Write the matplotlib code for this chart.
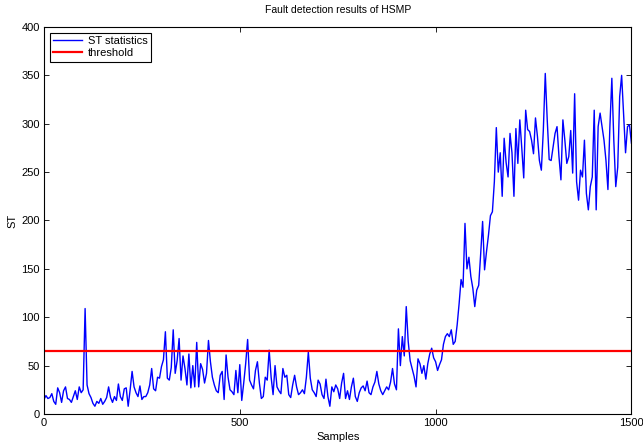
# ST statistics vs. threshold (HSMP fault detection), MATLAB-like look

import numpy as np
import matplotlib
matplotlib.use("Agg")
import matplotlib.pyplot as plt

# ST statistic, every 5 samples (0 .. 1500)
st_values = [
    15, 19, 16, 17, 21, 13, 10, 27, 22, 12,
    24, 28, 16, 15, 12, 18, 24, 15, 28, 22,
    25, 109, 30, 21, 17, 11, 8, 13, 11, 16,
    10, 13, 17, 28, 17, 12, 18, 14, 31, 18,
    14, 26, 27, 8, 25, 44, 28, 22, 18, 29,
    15, 18, 18, 22, 30, 47, 26, 24, 38, 37,
    49, 56, 85, 37, 35, 48, 87, 42, 55, 78,
    35, 60, 47, 30, 62, 27, 50, 28, 74, 28,
    52, 46, 32, 42, 76, 54, 38, 30, 24, 22,
    40, 44, 15, 61, 38, 25, 23, 20, 45, 22,
    51, 14, 32, 52, 77, 35, 30, 26, 45, 54,
    32, 16, 18, 38, 35, 66, 38, 20, 50, 28,
    24, 21, 47, 38, 40, 20, 17, 30, 40, 28,
    20, 22, 25, 21, 38, 64, 37, 25, 22, 18,
    35, 31, 20, 16, 36, 18, 8, 28, 23, 30,
    26, 16, 32, 42, 16, 24, 15, 28, 37, 18,
    13, 22, 27, 29, 24, 34, 22, 20, 28, 33,
    44, 31, 24, 20, 24, 28, 25, 33, 47, 31,
    25, 88, 50, 80, 60, 111, 75, 55, 47, 39,
    28, 57, 52, 42, 50, 36, 52, 62, 68, 58,
    54, 45, 51, 56, 72, 80, 83, 80, 87, 72,
    75, 92, 114, 139, 131, 197, 150, 162, 142, 130,
    111, 128, 133, 165, 199, 149, 168, 185, 205, 209,
    240, 296, 250, 270, 225, 285, 260, 245, 290, 270,
    225, 295, 259, 304, 275, 244, 314, 294, 292, 283,
    269, 306, 287, 262, 252, 293, 352, 304, 263, 262,
    276, 290, 297, 266, 242, 304, 283, 259, 266, 293,
    249, 331, 240, 221, 252, 245, 283, 228, 211, 235,
    245, 314, 211, 297, 311, 297, 283, 262, 232, 297,
    347, 283, 235, 255, 328, 350, 310, 270, 297, 299,
    280,
]
sample_step = 5
threshold = 65

x_ticks = [0, 500, 1000, 1500]
y_ticks = [0, 50, 100, 150, 200, 250, 300, 350, 400]

plt.rcParams['font.family'] = ['Liberation Sans', 'DejaVu Sans']
plt.rcParams['font.size'] = 8

samples = np.arange(len(st_values)) * sample_step

fig = plt.figure(figsize=(6.43, 4.44), dpi=100)
ax = fig.add_axes([0.0684, 0.0676, 0.9136, 0.8716])

ax.plot(samples, st_values, color='#0000ff', linewidth=1.0, label='ST statistics')
ax.axhline(threshold, color='#ff0000', linewidth=1.6, label='threshold')

ax.set_xlim(0, 1500)
ax.set_ylim(0, 400)
ax.set_xticks(x_ticks)
ax.set_yticks(y_ticks)
ax.tick_params(direction='in', length=3.5, width=0.6, top=True, right=True,
               labelsize=8, pad=3)
for sp in ax.spines.values():
    sp.set_linewidth(0.8)

ax.set_title('Fault detection results of HSMP', fontsize=7.5, pad=10)
ax.set_xlabel('Samples', fontsize=8, labelpad=3)
ax.set_ylabel('ST', fontsize=8, labelpad=3)

leg = ax.legend(loc='upper left', bbox_to_anchor=(0.01, 0.985), fontsize=8,
                frameon=True, fancybox=False, framealpha=1, edgecolor='black',
                handlelength=2.6, borderpad=0.3, labelspacing=0.2,
                handletextpad=0.5, borderaxespad=0)
leg.get_frame().set_linewidth(0.8)

fig.savefig('out.png', dpi=100)
